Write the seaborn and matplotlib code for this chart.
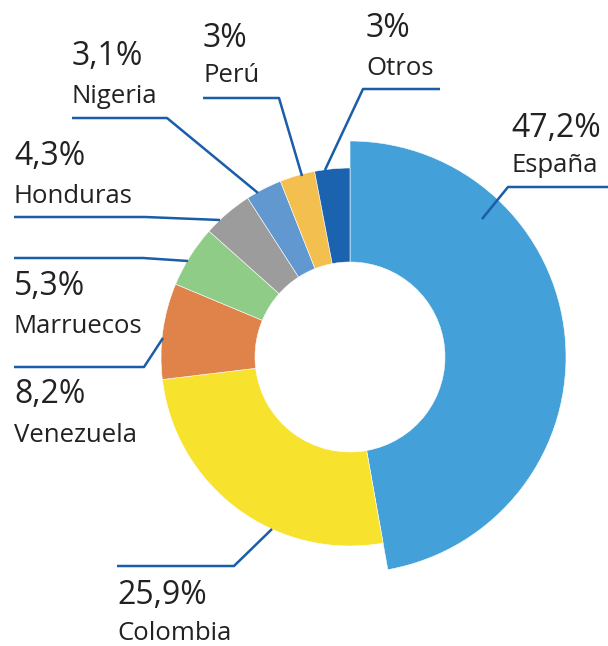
import numpy as np
import matplotlib
matplotlib.use("Agg")
import matplotlib.pyplot as plt
import seaborn as sns

# data (clockwise from the top)
paises = ["España", "Colombia", "Venezuela", "Marruecos", "Honduras", "Nigeria", "Perú", "Otros"]
porcentajes = [47.2, 25.9, 8.2, 5.3, 4.3, 3.1, 3.0, 3.0]
etiquetas = ["47,2%", "25,9%", "8,2%", "5,3%", "4,3%", "3,1%", "3%", "3%"]
colores = ["#43A0D8", "#F7E22E", "#DF834B", "#8FCC88", "#9C9C9C", "#6098CF", "#F3BF4E", "#1B62AF"]

sns.set_theme(style="white")
plt.rcParams['font.family'] = ['Open Sans', 'DejaVu Sans']

W, H = 608, 646
fig = plt.figure(figsize=(W / 100, H / 100), dpi=100)
ax = fig.add_axes([0, 0, 1, 1])
ax.set_xlim(0, W)
ax.set_ylim(0, H)
ax.set_aspect("equal")
ax.axis("off")

def py(y):
    # pixel row -> data y
    return H - y

cx, cy = 350, py(357)
r_out, r_in, r_big = 189, 95, 216

wedges, _ = ax.pie(porcentajes, colors=colores, startangle=90, counterclock=False,
                   center=(cx, cy), radius=r_out,
                   wedgeprops=dict(width=r_out - r_in, edgecolor="white", linewidth=0.4))
# España sticks out further than the rest
wedges[0].set_radius(r_big)
wedges[0].set_width(r_big - r_in)
ax.set_xlim(0, W)
ax.set_ylim(0, H)

# label layout: x, baseline of % text, baseline of name, leader polyline (pixels)
layout = {
    "España":    (511, 137, 172, [(608, 187), (508, 187), (482, 219)]),
    "Colombia":  (117, 604, 640, [(117, 566), (234, 566), (272, 529)]),
    "Venezuela": (14, 403, 442, [(14, 367), (144, 367), (163, 338)]),
    "Marruecos": (14, 295, 333, [(14, 258), (143, 258), (188, 261)]),
    "Honduras":  (14, 165, 203, [(14, 217), (145, 217), (220, 220)]),
    "Nigeria":   (72, 65, 103, [(72, 118), (167, 118), (258, 193)]),
    "Perú":      (203, 47, 82, [(203, 98), (279, 98), (302, 176)]),
    "Otros":     (366, 37, 75, [(440, 89), (363, 89), (325, 170)]),
}

linea = "#1A5DA8"
texto = "#222222"
for pais, lab in zip(paises, etiquetas):
    x, yb1, yb2, pts = layout[pais]
    xs = [p[0] for p in pts]
    ys = [py(p[1]) for p in pts]
    ax.plot(xs, ys, color=linea, lw=1.8, solid_capstyle="butt", zorder=5)
    ax.text(x, py(yb1), lab, fontsize=23, fontweight="medium", color=texto,
            ha="left", va="baseline")
    ax.text(x, py(yb2), pais, fontsize=18.5, color=texto, ha="left", va="baseline")

fig.savefig("out.png", dpi=100)
